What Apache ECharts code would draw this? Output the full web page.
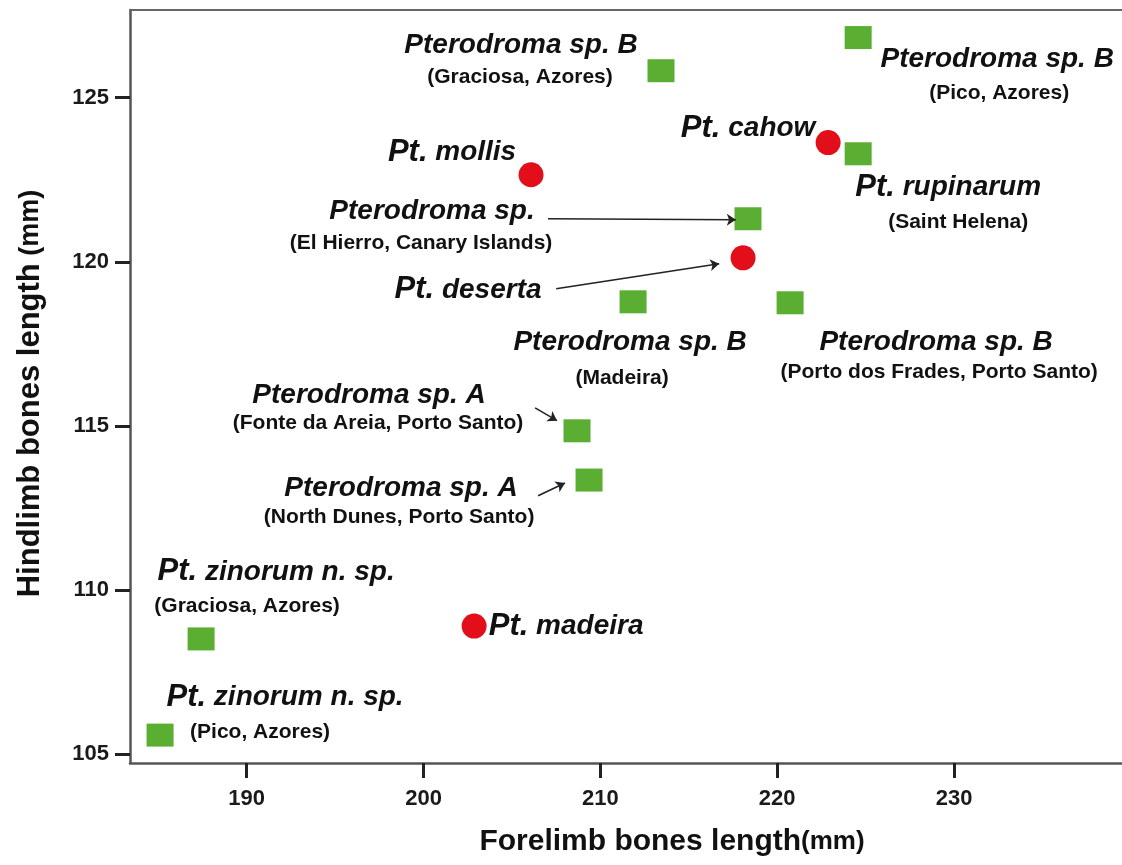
<!DOCTYPE html>
<html>
<head>
<meta charset="utf-8">
<script src="https://cdn.jsdelivr.net/npm/echarts@6/dist/echarts.min.js"></script>
<style>html,body{margin:0;padding:0;background:#fff;}#c{width:1122px;height:865px;}</style>
</head>
<body>
<div id="c"></div>
<script>
// ---- data ----
const xTicks = [190, 200, 210, 220, 230];
const yTicks = [105, 110, 115, 120, 125];

// green squares
const sqSpecies = ['Pterodroma sp. B', 'Pterodroma sp. B', 'Pt. rupinarum', 'Pterodroma sp.', 'Pterodroma sp. B', 'Pterodroma sp. B', 'Pterodroma sp. A', 'Pterodroma sp. A', 'Pt. zinorum n. sp.', 'Pt. zinorum n. sp.'];
const sqPlaces = ['(Graciosa, Azores)', '(Pico, Azores)', '(Saint Helena)', '(El Hierro, Canary Islands)', '(Madeira)', '(Porto dos Frades, Porto Santo)', '(Fonte da Areia, Porto Santo)', '(North Dunes, Porto Santo)', '(Graciosa, Azores)', '(Pico, Azores)'];
const sqForelimb = [213.43, 224.58, 224.58, 218.35, 211.85, 220.73, 208.68, 209.36, 187.42, 185.10];
const sqHindlimb = [125.82, 126.83, 123.29, 121.31, 118.78, 118.75, 114.85, 113.35, 108.51, 105.58];

// red circles
const ciSpecies = ['Pt. mollis', 'Pt. deserta', 'Pt. cahow', 'Pt. madeira'];
const ciForelimb = [206.08, 218.07, 222.88, 202.86];
const ciHindlimb = [122.65, 120.12, 123.63, 108.90];

// arrows (data units)
const arrowStartX = [207.04, 207.50, 206.31, 206.48];
const arrowStartY = [121.31, 119.18, 115.55, 112.87];
const arrowEndX = [217.66, 216.72, 207.55, 208.00];
const arrowEndY = [121.28, 119.94, 115.16, 113.26];

// ---- label layout (pixel offsets from marker centre) ----
const sqSpOffset = [[-140,-25],[139,22],[90,34],[-316,-7],[-3,40],[146,39],[-208,-36],[-188,8],[75,-67],[125,-38]];
const sqPlOffset = [[-141,6],[141,56],[100,68],[-327,24],[-11,76],[149,69],[-199,-8],[-190,37],[46,-33],[100,-3]];
const ciOffset = [[-79,-22],[-275,32],[-80,-14],[92,0]];

const FONT = "'Liberation Sans', Arial, Helvetica, sans-serif";
const richSp = {
  pt: {fontSize: 31, fontWeight: 'bold', fontStyle: 'italic', color: '#111', fontFamily: FONT, lineHeight: 32},
  sp: {fontSize: 28, fontWeight: 'bold', fontStyle: 'italic', color: '#111', fontFamily: FONT, lineHeight: 32}
};
const richPl = {
  p: {fontSize: 21, fontWeight: 'bold', color: '#111', fontFamily: FONT, lineHeight: 24, textBorderWidth: 0, opacity: 1}
};
function spText(s) {
  if (s.indexOf('Pt. ') === 0) return '{pt|Pt.}{sp| ' + s.slice(4) + '}';
  return '{sp|' + s + '}';
}

const GREEN = '#5aae32';
const RED = '#e20f1b';

const sqData = sqForelimb.map((x, i) => ({
  value: [x, sqHindlimb[i]],
  label: {show: true, position: 'inside', offset: sqSpOffset[i], formatter: spText(sqSpecies[i]), rich: richSp, align: 'center', verticalAlign: 'middle'}
}));
const sqPlaceData = sqForelimb.map((x, i) => ({
  value: [x, sqHindlimb[i]],
  label: {show: true, position: 'inside', offset: sqPlOffset[i], formatter: '{p|' + sqPlaces[i] + '}', rich: richPl,
          color: '#111', textBorderWidth: 0, textBorderColor: 'transparent', opacity: 1, align: 'center', verticalAlign: 'middle'}
}));
const ciData = ciForelimb.map((x, i) => ({
  value: [x, ciHindlimb[i]],
  label: {show: true, position: 'inside', offset: ciOffset[i], formatter: spText(ciSpecies[i]), rich: richSp, align: 'center', verticalAlign: 'middle'}
}));
const arrowData = arrowStartX.map((x, i) => [
  {coord: [x, arrowStartY[i]]},
  {coord: [arrowEndX[i], arrowEndY[i]]}
]);

const chart = echarts.init(document.getElementById('c'), null, {renderer: 'canvas'});
const option = {
  animation: false,
  backgroundColor: '#fff',
  grid: {left: 130, top: 10, right: 0, bottom: 102, containLabel: false},
  xAxis: [{
    type: 'value', min: 183.4, max: 239.5,
    axisLine: {show: true, onZero: false, lineStyle: {color: '#555', width: 2.5}},
    axisTick: {show: true, length: 15, customValues: xTicks, lineStyle: {color: '#222', width: 3}},
    axisLabel: {customValues: xTicks, fontSize: 22, fontWeight: 'bold', color: '#1a1a1a', margin: 25, fontFamily: FONT},
    splitLine: {show: false},
    name: '{a|Forelimb bones length}{b|(mm)}',
    nameLocation: 'middle', nameGap: 64,
    nameTextStyle: {
      padding: [0, 0, 0, 92],
      rich: {
        a: {fontSize: 30, fontWeight: 'bold', color: '#111', fontFamily: FONT},
        b: {fontSize: 26, fontWeight: 'bold', color: '#111', fontFamily: FONT}
      }
    }
  }, {
    type: 'value', position: 'top', min: 183.4, max: 239.5,
    axisLine: {show: true, onZero: false, lineStyle: {color: '#666', width: 2}},
    axisTick: {show: false}, axisLabel: {show: false}, splitLine: {show: false}
  }],
  yAxis: {
    type: 'value', min: 104.73, max: 127.67,
    axisLine: {show: true, onZero: false, lineStyle: {color: '#555', width: 2.5}},
    axisTick: {show: true, length: 15, customValues: yTicks, lineStyle: {color: '#222', width: 3}},
    axisLabel: {customValues: yTicks, fontSize: 22, fontWeight: 'bold', color: '#1a1a1a', margin: 21, fontFamily: FONT},
    splitLine: {show: false},
    name: '{a|Hindlimb bones length}{b| (mm)}',
    nameLocation: 'middle', nameGap: 84,
    nameTextStyle: {
      padding: [0, 14, 0, 0],
      rich: {
        a: {fontSize: 31, fontWeight: 'bold', color: '#111', fontFamily: FONT},
        b: {fontSize: 27, fontWeight: 'bold', color: '#111', fontFamily: FONT}
      }
    }
  },
  series: [
    {
      name: 'places', type: 'scatter', xAxisIndex: 0, symbol: 'circle', symbolSize: 1, silent: true,
      itemStyle: {color: '#ffffff', opacity: 1},
      data: sqPlaceData, z: 1
    },
    {
      name: 'squares', type: 'scatter', xAxisIndex: 0, symbol: 'rect', symbolSize: [27, 23],
      itemStyle: {color: GREEN, opacity: 1}, data: sqData, z: 3,
      markLine: {
        silent: true, symbol: ['none', 'arrow'], symbolSize: 9,
        lineStyle: {color: '#222', width: 1.6, type: 'solid'},
        label: {show: false}, emphasis: {disabled: true},
        data: arrowData
      }
    },
    {
      name: 'circles', type: 'scatter', xAxisIndex: 0, symbol: 'circle', symbolSize: 25,
      itemStyle: {color: RED, opacity: 1}, data: ciData, z: 3
    }
  ]
};
chart.setOption(option);
</script>
</body>
</html>
